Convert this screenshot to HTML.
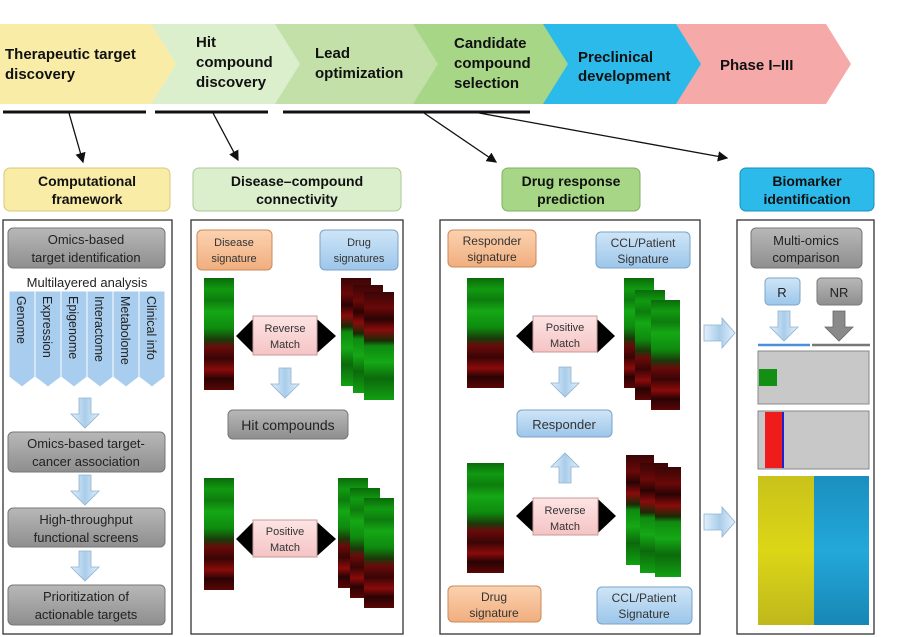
<!DOCTYPE html>
<html><head><meta charset="utf-8"><style>
body{margin:0;background:#fff;}
svg{display:block;font-family:"Liberation Sans",sans-serif;}
</style></head><body>
<svg width="900" height="637" viewBox="0 0 900 637" xmlns="http://www.w3.org/2000/svg">
<defs>
<linearGradient id="gray" x1="0" y1="0" x2="0" y2="1"><stop offset="0" stop-color="#b8b8b8"/><stop offset="1" stop-color="#8e8e8e"/></linearGradient>
<linearGradient id="blu" x1="0" y1="0" x2="0" y2="1"><stop offset="0" stop-color="#cfe5f7"/><stop offset="1" stop-color="#9cc6ea"/></linearGradient>
<linearGradient id="org" x1="0" y1="0" x2="0" y2="1"><stop offset="0" stop-color="#fbd2b0"/><stop offset="1" stop-color="#f1ae7e"/></linearGradient>
<linearGradient id="pnk" x1="0" y1="0" x2="0" y2="1"><stop offset="0" stop-color="#fde4e4"/><stop offset="1" stop-color="#f5c4c4"/></linearGradient>
<linearGradient id="arr" x1="0" y1="0" x2="1" y2="0"><stop offset="0" stop-color="#e3f0fb"/><stop offset="0.5" stop-color="#a9cdea"/><stop offset="1" stop-color="#e3f0fb"/></linearGradient>
<linearGradient id="gr2r" x1="0" y1="0" x2="0" y2="1">
<stop offset="0" stop-color="#0a6a0a"/><stop offset="0.1" stop-color="#119a11"/><stop offset="0.2" stop-color="#0d7d0d"/><stop offset="0.3" stop-color="#15a815"/><stop offset="0.45" stop-color="#0e8a0e"/><stop offset="0.55" stop-color="#1a3a0a"/><stop offset="0.62" stop-color="#6a0a0a"/><stop offset="0.72" stop-color="#3a0505"/><stop offset="0.82" stop-color="#8a0b0b"/><stop offset="0.9" stop-color="#2a0303"/><stop offset="1" stop-color="#5a0606"/></linearGradient>
<linearGradient id="r2g" x1="0" y1="0" x2="0" y2="1">
<stop offset="0" stop-color="#3a0505"/><stop offset="0.15" stop-color="#6a0808"/><stop offset="0.25" stop-color="#2a0303"/><stop offset="0.35" stop-color="#8a0b0b"/><stop offset="0.45" stop-color="#1a2a05"/><stop offset="0.5" stop-color="#0f8a0f"/><stop offset="0.65" stop-color="#15a815"/><stop offset="0.8" stop-color="#0b6a0b"/><stop offset="1" stop-color="#12a012"/></linearGradient>
<linearGradient id="yb" x1="0" y1="0" x2="0" y2="1"><stop offset="0" stop-color="#c9c21a"/><stop offset="0.5" stop-color="#dcd617"/><stop offset="1" stop-color="#bfb81c"/></linearGradient>
<linearGradient id="bb" x1="0" y1="0" x2="0" y2="1"><stop offset="0" stop-color="#1a8fbf"/><stop offset="0.5" stop-color="#23a8d9"/><stop offset="1" stop-color="#1787b5"/></linearGradient>
<marker id="ah" markerWidth="8" markerHeight="8" refX="7" refY="4" orient="auto"><path d="M0,0 L8,4 L0,8 z" fill="#111"/></marker>
<g id="darr"><path d="M-6,0 h12 v16 h8 l-14,14 l-14,-14 h8 z" fill="url(#arr)" stroke="#8fb2d0" stroke-width="0.8"/></g>
</defs>

<!-- chevrons -->
<polygon points="669,24 826,24 851,64 826,104 669,104 694,64" fill="#f5a9a8"/>
<polygon points="540,24 676,24 701,64 676,104 540,104 565,64" fill="#2cbaeb"/>
<polygon points="407,24 543,24 568,64 543,104 407,104 432,64" fill="#a6d686"/>
<polygon points="274,24 413,24 438,64 413,104 274,104 299,64" fill="#c2e0a8"/>
<polygon points="147,24 275,24 300,64 275,104 147,104 172,64" fill="#dcefcd"/>
<polygon points="0,24 151,24 176,64 151,104 0,104" fill="#f9eca6"/>
<g font-weight="bold" font-size="15" fill="#111">
<text x="5" y="59">Therapeutic target</text><text x="5" y="79">discovery</text>
<text x="196" y="47">Hit</text><text x="196" y="67">compound</text><text x="196" y="87">discovery</text>
<text x="315" y="58">Lead</text><text x="315" y="78">optimization</text>
<text x="454" y="48">Candidate</text><text x="454" y="68">compound</text><text x="454" y="88">selection</text>
<text x="578" y="62">Preclinical</text><text x="578" y="81">development</text>
<text x="720" y="70">Phase I–III</text>
</g>
<g stroke="#111" stroke-width="3"><line x1="3" y1="112" x2="146" y2="112"/><line x1="155" y1="112" x2="268" y2="112"/><line x1="283" y1="112" x2="530" y2="112"/></g>
<g stroke="#111" stroke-width="1.3" marker-end="url(#ah)"><line x1="69" y1="113" x2="83" y2="162"/><line x1="213" y1="113" x2="238" y2="160"/><line x1="424" y1="113" x2="496" y2="162"/><line x1="479" y1="113" x2="727" y2="158"/></g>

<!-- headers -->
<g font-weight="bold" font-size="14" fill="#111" text-anchor="middle">
<rect x="4" y="168" width="166" height="43" rx="6" fill="#f9eca6" stroke="#d8c878"/>
<text x="87" y="186">Computational</text><text x="87" y="204">framework</text>
<rect x="193" y="168" width="208" height="43" rx="6" fill="#dcefcd" stroke="#aac898"/>
<text x="297" y="186">Disease–compound</text><text x="297" y="204">connectivity</text>
<rect x="502" y="168" width="138" height="43" rx="6" fill="#a6d686" stroke="#80b060"/>
<text x="571" y="186">Drug response</text><text x="571" y="204">prediction</text>
<rect x="740" y="168" width="134" height="43" rx="6" fill="#2cbaeb" stroke="#1a90bb"/>
<text x="807" y="186">Biomarker</text><text x="807" y="204">identification</text>
</g>

<!-- panels -->
<g fill="none" stroke="#333" stroke-width="1.3">
<rect x="3" y="220" width="169" height="414"/><rect x="191" y="220" width="212" height="414"/><rect x="440" y="220" width="260" height="414"/><rect x="737" y="220" width="137" height="414"/>
</g>

<!-- panel 1 -->
<g font-size="13" fill="#222" text-anchor="middle">
<rect x="8" y="228" width="157" height="40" rx="5" fill="url(#gray)" stroke="#777"/>
<text x="86" y="244">Omics-based</text><text x="86" y="262">target identification</text>
<text x="87" y="287">Multilayered analysis</text>
<g fill="#a8cdee" stroke="#fff" stroke-width="1">
<path d="M9,291 h26 v86 l-13,10 l-13,-10z"/><path d="M35,291 h26 v86 l-13,10 l-13,-10z"/><path d="M61,291 h26 v86 l-13,10 l-13,-10z"/><path d="M87,291 h26 v86 l-13,10 l-13,-10z"/><path d="M113,291 h26 v86 l-13,10 l-13,-10z"/><path d="M139,291 h26 v86 l-13,10 l-13,-10z"/>
</g>
<g font-size="12.5" text-anchor="start">
<text transform="translate(17,296) rotate(90)">Genome</text>
<text transform="translate(43,296) rotate(90)">Expression</text>
<text transform="translate(69,296) rotate(90)">Epigenome</text>
<text transform="translate(95,296) rotate(90)">Interactome</text>
<text transform="translate(121,296) rotate(90)">Metabolome</text>
<text transform="translate(147,296) rotate(90)">Clinical info</text>
</g>
<use href="#darr" x="85" y="398"/>
<rect x="8" y="432" width="157" height="40" rx="5" fill="url(#gray)" stroke="#777"/>
<text x="86" y="448">Omics-based target-</text><text x="86" y="466">cancer association</text>
<use href="#darr" x="85" y="475"/>
<rect x="8" y="508" width="157" height="39" rx="5" fill="url(#gray)" stroke="#777"/>
<text x="86" y="524">High-throughput</text><text x="86" y="542">functional screens</text>
<use href="#darr" x="85" y="551"/>
<rect x="8" y="585" width="157" height="40" rx="5" fill="url(#gray)" stroke="#777"/>
<text x="86" y="601">Prioritization of</text><text x="86" y="619">actionable targets</text>
</g>

<!-- panel 2 -->
<g font-size="11" fill="#333" text-anchor="middle">
<rect x="197" y="230" width="75" height="40" rx="5" fill="url(#org)" stroke="#c98a5a"/>
<text x="234" y="246">Disease</text><text x="234" y="262">signature</text>
<rect x="320" y="230" width="78" height="40" rx="5" fill="url(#blu)" stroke="#7aa3c8"/>
<text x="359" y="246">Drug</text><text x="359" y="262">signatures</text>
<rect x="204" y="278" width="30" height="112" fill="url(#gr2r)"/>
<rect x="341" y="278" width="30" height="108" fill="url(#r2g)"/><rect x="353" y="285" width="30" height="108" fill="url(#r2g)"/><rect x="364" y="292" width="30" height="108" fill="url(#r2g)"/>
<path d="M236,336 l17,-17 v34z" fill="#000"/><path d="M336,336 l-19,-17 v34z" fill="#000"/>
<rect x="253" y="316" width="64" height="39" fill="url(#pnk)" stroke="#c89a9a"/>
<text x="285" y="332">Reverse</text><text x="285" y="348">Match</text>
<use href="#darr" x="285" y="368"/>
<rect x="228" y="410" width="120" height="29" rx="5" fill="url(#gray)" stroke="#777"/>
<text x="288" y="430" font-size="14" fill="#222">Hit compounds</text>
<rect x="204" y="478" width="30" height="112" fill="url(#gr2r)"/>
<rect x="338" y="478" width="30" height="110" fill="url(#gr2r)"/><rect x="350" y="488" width="30" height="110" fill="url(#gr2r)"/><rect x="364" y="498" width="30" height="110" fill="url(#gr2r)"/>
<path d="M236,539 l17,-17 v34z" fill="#000"/><path d="M336,539 l-19,-17 v34z" fill="#000"/>
<rect x="253" y="520" width="64" height="37" fill="url(#pnk)" stroke="#c89a9a"/>
<text x="285" y="535">Positive</text><text x="285" y="551">Match</text>
</g>

<!-- panel 3 -->
<g font-size="12" fill="#333" text-anchor="middle">
<rect x="448" y="230" width="88" height="37" rx="5" fill="url(#org)" stroke="#c98a5a"/>
<text x="492" y="245">Responder</text><text x="492" y="261">signature</text>
<rect x="596" y="232" width="94" height="36" rx="5" fill="url(#blu)" stroke="#7aa3c8"/>
<text x="643" y="247">CCL/Patient</text><text x="643" y="263">Signature</text>
<rect x="467" y="278" width="37" height="110" fill="url(#gr2r)"/>
<rect x="624" y="278" width="30" height="110" fill="url(#gr2r)"/><rect x="635" y="290" width="30" height="110" fill="url(#gr2r)"/><rect x="651" y="300" width="29" height="110" fill="url(#gr2r)"/>
<path d="M516,336 l18,-17 v34z" fill="#000"/><path d="M615,336 l-18,-17 v34z" fill="#000"/>
<rect x="533" y="316" width="64" height="36" fill="url(#pnk)" stroke="#c89a9a"/>
<text x="565" y="331" font-size="11">Positive</text><text x="565" y="347" font-size="11">Match</text>
<use href="#darr" x="565" y="367"/>
<rect x="517" y="410" width="95" height="27" rx="5" fill="url(#blu)" stroke="#7aa3c8"/>
<text x="564" y="429" font-size="13">Responder</text>
<use href="#darr" transform="translate(565,483) scale(1,-1)"/>
<rect x="467" y="463" width="37" height="110" fill="url(#gr2r)"/>
<rect x="626" y="455" width="28" height="110" fill="url(#r2g)"/><rect x="640" y="463" width="28" height="110" fill="url(#r2g)"/><rect x="655" y="467" width="26" height="110" fill="url(#r2g)"/>
<path d="M516,516 l18,-17 v34z" fill="#000"/><path d="M616,516 l-18,-17 v34z" fill="#000"/>
<rect x="533" y="498" width="65" height="37" fill="url(#pnk)" stroke="#c89a9a"/>
<text x="565" y="514" font-size="11">Reverse</text><text x="565" y="530" font-size="11">Match</text>
<rect x="448" y="586" width="93" height="36" rx="5" fill="url(#org)" stroke="#c98a5a"/>
<text x="494" y="601">Drug</text><text x="494" y="617">signature</text>
<rect x="597" y="587" width="95" height="37" rx="5" fill="url(#blu)" stroke="#7aa3c8"/>
<text x="644" y="602">CCL/Patient</text><text x="644" y="618">Signature</text>
</g>

<!-- inter-panel arrows -->
<g fill="url(#arr)" stroke="#8fb2d0" stroke-width="0.8">
<path d="M704,325 h18 v-7 l13,15 l-13,15 v-7 h-18z"/>
<path d="M704,514 h18 v-7 l13,15 l-13,15 v-7 h-18z"/>
</g>

<!-- panel 4 -->
<g font-size="13" fill="#222" text-anchor="middle">
<rect x="751" y="228" width="111" height="40" rx="5" fill="url(#gray)" stroke="#777"/>
<text x="806" y="245">Multi-omics</text><text x="806" y="262">comparison</text>
<rect x="765" y="278" width="35" height="27" rx="4" fill="url(#blu)" stroke="#7aa3c8"/>
<text x="782" y="297">R</text>
<rect x="817" y="278" width="45" height="27" rx="4" fill="url(#gray)" stroke="#777"/>
<text x="839" y="297">NR</text>
<use href="#darr" x="784" y="311"/>
<path d="M833,311 h12 v16 h8 l-14,14 l-14,-14 h8z" fill="#8a8a8a" stroke="#666" stroke-width="0.8"/>
<line x1="758" y1="345" x2="810" y2="345" stroke="#4a90d9" stroke-width="2.5"/>
<line x1="812" y1="345" x2="870" y2="345" stroke="#777" stroke-width="2.5"/>
<rect x="758" y="351" width="111" height="53" fill="#c8c8c8" stroke="#888"/>
<rect x="759" y="369" width="18" height="17" fill="#138f13"/>
<rect x="758" y="411" width="111" height="58" fill="#c8c8c8" stroke="#888"/>
<rect x="765" y="412" width="17" height="56" fill="#f01c1c"/><rect x="782" y="412" width="2" height="56" fill="#2222cc"/>
<rect x="758" y="476" width="56" height="149" fill="url(#yb)"/>
<rect x="814" y="476" width="55" height="149" fill="url(#bb)"/>
</g>
</svg>
</body></html>
